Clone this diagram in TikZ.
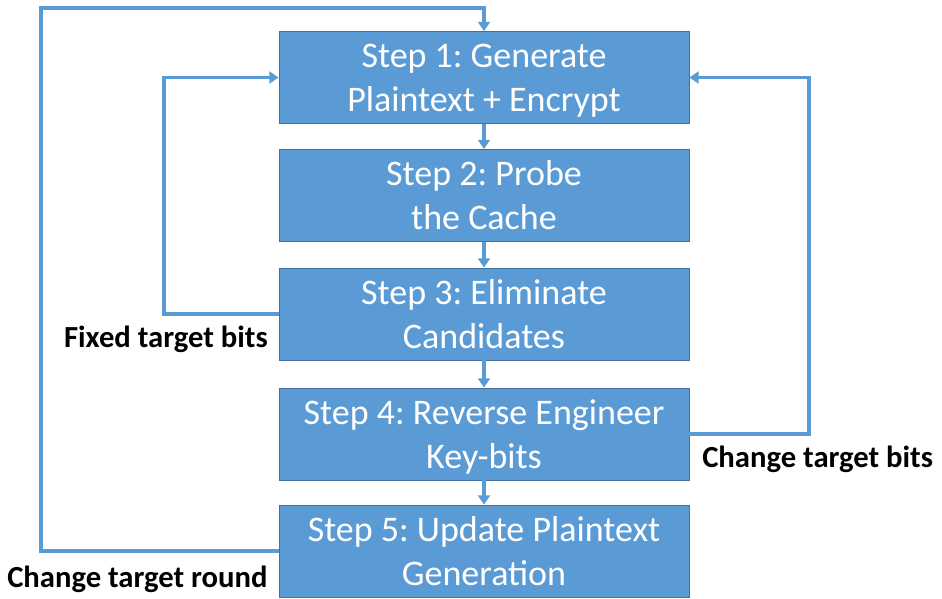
\documentclass[tikz,border=0pt]{standalone}
\usepackage{fontspec}
\setmainfont{Carlito}
\frenchspacing
\usetikzlibrary{arrows.meta, positioning}
\definecolor{stepblue}{HTML}{5B9BD5}
\definecolor{stepedge}{HTML}{41719C}

\begin{document}
\begin{tikzpicture}[x=0.75pt, y=-0.75pt,
    stepbox/.style={draw=stepedge, fill=stepblue, text=white, line width=0.6pt, minimum width=307.5pt, minimum height=69pt, text depth=-2.5pt, font=\fontsize{27}{33}\selectfont, align=center},
    flow/.style={draw=stepblue, line width=2.8pt, -{Triangle[length=7pt, width=9pt]}},
    note/.style={inner sep=0pt, font=\fontsize{23}{27}\selectfont\bfseries},
]
    \useasboundingbox (0,0) rectangle (942,599);

    \node[stepbox] (s1) at (484, 77.5) {Step 1: Generate\\Plaintext + Encrypt};
    \node[stepbox] (s2) at (484, 195.5) {Step 2: Probe\\the Cache};
    \node[stepbox] (s3) at (484, 314) {Step 3: Eliminate\\Candidates};
    \node[stepbox] (s4) at (484, 434) {Step 4: Reverse Engineer\\Key-bits};
    \node[stepbox] (s5) at (484, 551) {Step 5: Update Plaintext\\Generation};

    \draw[flow] (s1) -- (s2);
    \draw[flow] (s2) -- (s3);
    \draw[flow] (s3) -- (s4);
    \draw[flow] (s4) -- (s5);

    % feedback loops
    \coordinate (fixedturn) at (164, 77.5);
    \coordinate (bitsturn) at (809, 77.5);
    \coordinate (roundturn) at (41, 8);
    \draw[flow] (s3.west) -| (fixedturn) -- (s1.west);
    \draw[flow] (s4.east) -| (bitsturn) -- (s1.east);
    \draw[flow] (s5.west) -| (roundturn) -| (s1.north);

    \node[note, anchor=base east] (fixed) at (268, 347) {Fixed target bits};
    \node[note, anchor=base west] (bits) at (702, 467) {Change target bits};
    \node[note, anchor=base west] (round) at (7, 587) {Change target round};
\end{tikzpicture}
\end{document}
